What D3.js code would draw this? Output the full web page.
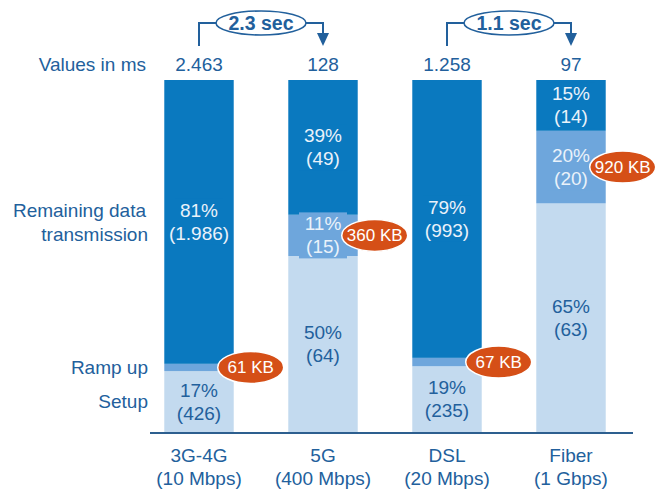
<!DOCTYPE html>
<html>
<head>
<meta charset="utf-8">
<title>Page load time by connection</title>
<script src="https://cdnjs.cloudflare.com/ajax/libs/d3/7.8.5/d3.min.js"></script>
<style>
  body { margin: 0; background: #fff; }
  svg { display: block; font-family: "Liberation Sans", Arial, sans-serif; }
</style>
</head>
<body>
<svg id="chart" width="660" height="490"></svg>
<script>
// connection types, two label lines each
var categories = ["3G-4G", "5G", "DSL", "Fiber"];
var speeds = ["(10 Mbps)", "(400 Mbps)", "(20 Mbps)", "(1 Gbps)"];

// phase durations in ms (ramp up of 3G and DSL = total - other two)
var setupMs = [426, 64, 235, 63];
var rampMs = [51, 15, 30, 20];
var remainMs = [1986, 49, 993, 14];
var totalMs = [2463, 128, 1258, 97];

// percentages as printed on the bars
var setupPct = [17, 50, 19, 65];
var rampPct = [2, 11, 2, 20];
var remainPct = [81, 39, 79, 15];

// data volume at end of ramp up
var rampKB = ["61 KB", "360 KB", "67 KB", "920 KB"];

// savings brackets across bar pairs
var savings = [{from: 0, to: 1, label: "2.3 sec"}, {from: 2, to: 3, label: "1.1 sec"}];

var phases = ["setup", "ramp", "remain"];
var phaseNames = {setup: "Setup", ramp: "Ramp up", remain: "Remaining data transmission"};
var colors = {setup: "#c3daef", ramp: "#6ea6dc", remain: "#0a79bf"};
var textCol = "#22609c";
var lightText = "#eaf2fa";
var fs = 19;

var fmt = d3.formatLocale({decimal: ",", thousands: ".", grouping: [3], currency: ["", ""]}).format(",d");

var rows = categories.map(function(c, i) {
  return {cat: c, setup: setupMs[i], ramp: rampMs[i], remain: remainMs[i],
          pct: {setup: setupPct[i], ramp: rampPct[i], remain: remainPct[i]}};
});

var svg = d3.select("#chart");
var W = 660;

var x = d3.scaleBand().domain(categories).range([137, 633]).paddingInner(0.44).paddingOuter(0.22);
var y = d3.scaleLinear().domain([0, 1]).range([432, 80]);

var series = d3.stack().keys(phases).offset(d3.stackOffsetExpand)(rows);

// bars
var g = svg.append("g");
series.forEach(function(s) {
  g.selectAll(null).data(s).enter().append("rect")
    .attr("x", function(d) { return x(d.data.cat); })
    .attr("width", x.bandwidth())
    .attr("y", function(d) { return y(d[1]); })
    .attr("height", function(d) { return y(d[0]) - y(d[1]); })
    .attr("fill", colors[s.key]);
});

// segment labels
series.forEach(function(s) {
  s.forEach(function(d) {
    var h = y(d[0]) - y(d[1]);
    if (h < 30) return;
    var cx = x(d.data.cat) + x.bandwidth() / 2;
    var mid = (y(d[0]) + y(d[1])) / 2;
    // label plate in segment colour (shows where the segment is thin)
    g.append("rect")
      .attr("x", cx - 24).attr("y", mid - 23).attr("width", 48).attr("height", 46)
      .attr("fill", colors[s.key]);
    var col = s.key === "setup" ? textCol : lightText;
    g.append("text").attr("x", cx).attr("y", mid - 5)
      .attr("text-anchor", "middle").attr("font-size", fs).attr("fill", col)
      .text(d.data.pct[s.key] + "%");
    g.append("text").attr("x", cx).attr("y", mid + 18)
      .attr("text-anchor", "middle").attr("font-size", fs).attr("fill", col)
      .text("(" + fmt(d.data[s.key]) + ")");
  });
});

// baseline
svg.append("line")
  .attr("x1", 150).attr("x2", 633).attr("y1", 433).attr("y2", 433)
  .attr("stroke", "#2d5f8f").attr("stroke-width", 2);

// category labels
categories.forEach(function(c, i) {
  var cx = x(c) + x.bandwidth() / 2;
  svg.append("text").attr("x", cx).attr("y", 462).attr("text-anchor", "middle")
    .attr("font-size", fs).attr("fill", textCol).text(c);
  svg.append("text").attr("x", cx).attr("y", 485).attr("text-anchor", "middle")
    .attr("font-size", fs).attr("fill", textCol).text(speeds[i]);
  svg.append("text").attr("x", cx).attr("y", 71).attr("text-anchor", "middle")
    .attr("font-size", fs).attr("fill", textCol).text(fmt(totalMs[i]));
});

svg.append("text").attr("x", 146).attr("y", 71).attr("text-anchor", "end")
  .attr("font-size", fs).attr("fill", textCol).text("Values in ms");

// phase legend on the left, next to the first bar
var first = series.map(function(s) { return {key: s.key, d: s[0]}; });
first.forEach(function(p) {
  var mid = (y(p.d[0]) + y(p.d[1])) / 2;
  var t = svg.append("text").attr("text-anchor", "end").attr("font-size", fs).attr("fill", textCol);
  if (p.key === "remain") {
    t.append("tspan").attr("x", 146).attr("y", 217).text("Remaining data");
    t.append("tspan").attr("x", 148).attr("y", 241).text("transmission");
  } else if (p.key === "ramp") {
    t.attr("x", 148).attr("y", mid + 7).text(phaseNames[p.key]);
  } else {
    t.attr("x", 148).attr("y", mid + 6).text(phaseNames[p.key]);
  }
});

// ramp-up data volume badges
series[1].forEach(function(d, i) {
  var mid = (y(d[0]) + y(d[1])) / 2;
  var rx = 33, ry = 16;
  var cx = Math.min(x(d.data.cat) + x.bandwidth() + 17, W - rx - 2);
  svg.append("ellipse").attr("cx", cx).attr("cy", mid).attr("rx", rx).attr("ry", ry)
    .attr("fill", "#d54f17").attr("stroke", "#fff").attr("stroke-width", 1.5);
  svg.append("text").attr("x", cx).attr("y", mid + 6).attr("text-anchor", "middle")
    .attr("font-size", 17).attr("fill", "#fff").text(rampKB[i]);
});

// savings brackets
savings.forEach(function(s) {
  var x0 = x(categories[s.from]) + x.bandwidth() / 2;
  var x1 = x(categories[s.to]) + x.bandwidth() / 2;
  var cy = 23, top = 46;
  svg.append("path")
    .attr("d", "M" + x0 + "," + top + "V" + cy + "H" + x1 + "V" + (top - 12))
    .attr("fill", "none").attr("stroke", textCol).attr("stroke-width", 2);
  svg.append("path")
    .attr("d", "M" + (x1 - 6) + "," + (top - 13) + "L" + (x1 + 6) + "," + (top - 13) + "L" + x1 + "," + top + "Z")
    .attr("fill", textCol);
  svg.append("ellipse").attr("cx", (x0 + x1) / 2).attr("cy", cy).attr("rx", 45).attr("ry", 12)
    .attr("fill", "#fff").attr("stroke", textCol).attr("stroke-width", 1.6);
  svg.append("text").attr("x", (x0 + x1) / 2).attr("y", cy + 7).attr("text-anchor", "middle")
    .attr("font-size", 19.5).attr("font-weight", "bold").attr("fill", textCol).text(s.label);
});
</script>
</body>
</html>
